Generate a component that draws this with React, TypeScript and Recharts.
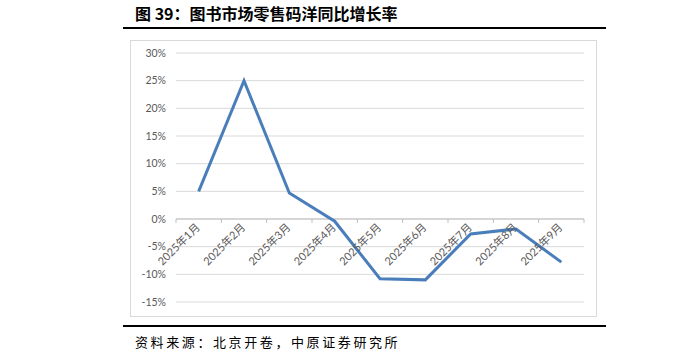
import React from 'react';
import { LineChart, Line, XAxis, YAxis, CartesianGrid, ReferenceLine } from 'recharts';

const categories = ['2025年1月', '2025年2月', '2025年3月', '2025年4月', '2025年5月', '2025年6月', '2025年7月', '2025年8月', '2025年9月'];
const growth = [5.0, 25.0, 4.7, -0.4, -10.8, -11.0, -2.7, -1.8, -7.8];
const yTicks = [-15, -10, -5, 0, 5, 10, 15, 20, 25, 30];
const Y_MIN = -15;
const Y_MAX = 30;

const data = categories.map((c, i) => ({ month: c, value: growth[i] }));

const W = 679;
const H = 357;
const PLOT_LEFT = 176;
const PLOT_RIGHT = 584;
const PLOT_TOP = 53;
const PLOT_BOTTOM = 302;
const Y_AXIS_W = 40;
const PLOT_H = PLOT_BOTTOM - PLOT_TOP;
const PLOT_W = PLOT_RIGHT - PLOT_LEFT;
const BAND = PLOT_W / categories.length;
const ZERO_Y = PLOT_TOP + (PLOT_H * Y_MAX) / (Y_MAX - Y_MIN);

const FONT = "Lato, 'Noto Sans CJK SC', sans-serif";

const XTick = (props: any) => {
  const { x, payload, index } = props;
  const ax = x + 2;
  const ay = ZERO_Y + 9;
  return (
    <g>
      <line x1={x - BAND / 2} y1={ZERO_Y} x2={x - BAND / 2} y2={ZERO_Y + 4} stroke="#bfbfbf" />
      {index === categories.length - 1 && (
        <line x1={x + BAND / 2} y1={ZERO_Y} x2={x + BAND / 2} y2={ZERO_Y + 4} stroke="#bfbfbf" />
      )}
      <text x={ax} y={ay} textAnchor="end" fontSize={11} fill="#595959" fontFamily={FONT} transform={`rotate(-45, ${ax}, ${ay})`}>
        {payload.value}
      </text>
    </g>
  );
};

export default function App() {
  return (
    <div style={{ position: 'fixed', left: 0, top: 0, width: W, height: H, background: '#fff', overflow: 'hidden' }}>
      <div style={{ position: 'absolute', left: 135, top: 2, fontSize: 16, fontWeight: 700, fontFamily: "'Noto Sans CJK SC', sans-serif", color: '#000', whiteSpace: 'nowrap', lineHeight: '22px' }}>
        图 39：图书市场零售码洋同比增长率
      </div>
      <div style={{ position: 'absolute', left: 123, top: 27, width: 483, height: 2, background: '#000' }} />
      <div style={{ position: 'absolute', left: 130, top: 40, width: 465, height: 275, border: '1px solid #d9d9d9' }} />
      <div style={{ position: 'absolute', left: 123, top: 325, width: 483, height: 2, background: '#000' }} />
      <div style={{ position: 'absolute', left: 135, top: 333, fontSize: 13, letterSpacing: 2.6, fontFamily: "'Noto Sans CJK SC', sans-serif", color: '#000', whiteSpace: 'nowrap', lineHeight: '18px' }}>
        资料来源：北京开卷，中原证券研究所
      </div>
      <div style={{ position: 'absolute', left: 0, top: 0 }}>
        <LineChart
          width={W}
          height={H}
          data={data}
          margin={{ left: PLOT_LEFT - Y_AXIS_W, right: W - PLOT_RIGHT, top: PLOT_TOP, bottom: H - PLOT_BOTTOM - 1 }}
        >
          <CartesianGrid vertical={false} stroke="#d9d9d9" />
          <XAxis
            dataKey="month"
            height={1}
            axisLine={false}
            tickLine={false}
            tick={<XTick />}
            interval={0}
            padding={{ left: BAND / 2, right: BAND / 2 }}
          />
          <YAxis
            width={Y_AXIS_W}
            domain={[Y_MIN, Y_MAX]}
            ticks={yTicks}
            axisLine={false}
            tickLine={false}
            tickMargin={4}
            tickFormatter={(v: number) => `${v}%`}
            tick={{ fontSize: 10.5, fill: '#595959', fontFamily: FONT }}
          />
          <ReferenceLine y={0} stroke="#bfbfbf" />
          <Line type="linear" dataKey="value" stroke="#4a7ebb" strokeWidth={3} dot={false} isAnimationActive={false} />
        </LineChart>
      </div>
    </div>
  );
}
